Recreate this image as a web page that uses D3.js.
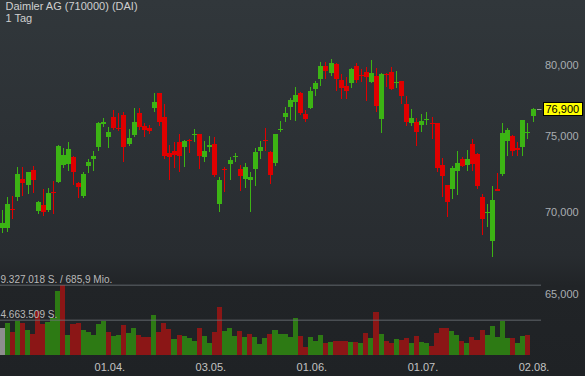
<!DOCTYPE html>
<html><head><meta charset="utf-8">
<script src="https://cdn.jsdelivr.net/npm/d3@7"></script>
<style>html,body{margin:0;padding:0;background:#24282b;}svg{display:block}</style>
</head><body><svg id="c" width="585" height="376"></svg>
<script>
// ---------------- data ----------------
const title = "Daimler AG (710000) (DAI)";
const period = "1 Tag";
const firstDay = "2021-03-03";
const lastDay = "2021-08-02";
const holidays = ["2021-04-02", "2021-04-05", "2021-05-24"];

const open = [68.99,69.02,70.21,70.99,72.14,71.75,72.73,70.08,70.46,70.14,
71.30,71.97,73.06,73.13,73.58,71.90,71.06,73.00,73.46,74.29,
75.85,74.96,76.34,75.58,76.45,74.47,75.08,76.61,75.69,75.58,
76.96,77.97,76.34,73.84,74.02,74.62,74.29,74.71,75.13,75.15,
73.62,74.25,74.47,70.54,72.80,73.13,73.66,72.80,72.14,72.08,
72.80,74.02,74.76,73.95,73.22,75.45,76.34,77.03,77.34,78.02,
76.52,76.96,78.28,78.99,79.95,79.44,80.07,78.92,78.49,78.73,
79.93,79.30,79.47,78.80,79.21,76.18,79.34,79.47,78.78,78.85,
77.22,75.92,75.99,75.78,76.13,75.92,75.88,73.06,71.75,71.49,
72.69,73.46,73.06,74.47,73.80,70.95,69.98,68.21,71.49,72.47,
74.67,75.01,74.22,74.25,75.24,76.41];
const high = [70.14,70.95,71.04,72.91,72.91,72.63,73.00,70.72,71.47,71.54,
72.01,74.37,74.18,74.58,73.66,71.95,72.58,73.46,74.00,75.97,
76.27,75.61,76.80,76.61,76.64,75.47,76.92,76.92,75.88,75.73,
77.97,77.99,77.22,74.40,74.62,75.15,74.71,74.79,75.47,75.18,
74.67,75.01,74.92,72.25,72.91,73.58,73.88,73.06,73.18,72.62,
74.18,74.67,75.54,73.98,75.18,76.04,77.03,77.66,78.40,78.07,
76.80,78.44,78.85,80.20,80.24,80.44,80.11,79.35,79.16,79.75,
80.12,79.69,79.83,80.36,79.76,79.40,79.40,79.83,79.57,78.88,
77.80,76.85,76.22,76.49,76.66,76.34,75.90,73.51,71.78,73.02,
74.02,73.58,74.06,74.79,73.83,71.17,70.52,71.69,72.56,75.88,
75.54,75.05,74.62,76.14,75.92,76.92];
const low = [68.67,68.77,69.55,70.74,71.04,71.15,71.21,69.89,69.76,70.00,
69.87,71.86,72.85,72.69,71.75,70.89,70.89,72.56,72.69,74.02,
75.65,74.22,75.42,75.37,73.24,74.35,74.96,75.42,74.96,75.15,
76.68,75.69,73.46,72.08,72.87,72.58,72.95,73.84,74.62,72.78,
73.28,73.95,72.25,70.03,71.28,72.08,73.28,71.38,71.54,70.00,
71.70,73.46,74.02,71.82,73.00,75.30,75.99,76.11,76.06,76.45,
75.99,76.87,77.80,78.51,78.97,79.23,78.16,77.55,77.55,78.33,
78.73,78.80,77.43,78.73,76.68,75.24,78.44,78.24,78.37,77.20,
75.69,75.69,74.35,75.30,75.76,74.79,72.62,70.95,69.68,70.84,
71.10,72.95,72.69,72.67,71.47,68.57,69.05,67.23,71.36,72.34,
73.66,73.68,73.68,73.68,74.79,75.99];
const close = [69.34,70.52,70.19,72.47,71.90,72.60,72.10,70.67,70.03,71.25,
71.28,74.33,73.73,74.13,72.62,71.64,72.47,73.24,73.66,75.92,
75.99,75.30,75.54,75.56,74.25,74.90,75.99,75.65,75.44,75.37,
77.38,75.99,73.68,73.58,73.73,73.68,74.67,74.69,75.15,73.68,
74.02,74.40,72.40,72.08,72.78,73.40,73.68,72.36,72.95,72.25,
73.95,74.29,74.74,72.40,75.15,75.47,76.61,77.50,77.85,76.61,
76.20,78.16,78.73,79.95,79.59,80.17,78.99,78.37,78.16,79.71,
78.92,79.28,79.11,79.40,77.10,79.35,79.31,78.28,78.80,77.80,
75.99,76.25,75.30,76.02,76.16,75.90,72.89,72.34,70.67,72.85,
73.18,73.02,73.46,73.13,71.70,69.57,70.00,70.78,71.38,75.24,
75.42,74.00,74.03,76.11,75.26,76.90];
const volume = [3600000,4260000,3150000,4600000,4260000,3370000,2800000,5940000,4170000,4400000,
4930000,8570000,9327018,2700000,4130000,4260000,3370000,3150000,2700000,4170000,
4570000,3150000,2600000,2700000,4040000,2930000,3680000,2700000,2480000,2400000,
5370000,3150000,4260000,3500000,2170000,2700000,2570000,2260000,1900000,3680000,
2610000,1600000,3060000,6480000,3240000,3680000,2570000,3240000,2480000,2800000,
2440000,1470000,2350000,2800000,3370000,2840000,2840000,2400000,5010000,2570000,
1150000,2480000,1900000,2700000,1680000,1730000,1950000,1900000,1900000,1730000,
1730000,1600000,3010000,2350000,5810000,2840000,1950000,1680000,2130000,2040000,
2350000,1600000,2610000,1730000,1600000,1280000,3010000,3680000,3600000,3240000,
2700000,1900000,1600000,2480000,2040000,3330000,2700000,3900000,2400000,4610000,
2260000,2260000,1600000,2610000,2700000,null];
const maxVolume = 9327018;
const maxTurnoverMio = 685.9;
const priceTicks = [65, 70, 75, 80];
const dateTicks = ["2021-04-01", "2021-05-03", "2021-06-01", "2021-07-01", "2021-08-02"];

// ---------------- chart ----------------
const W = 585, H = 376;
const svg = d3.select("#c");
const FONT = "'Liberation Sans', Arial, sans-serif";
const GREEN = "#3cb414", RED = "#e00000";
const VGREEN = "#2d7a14", VRED = "#8b1616", VGREY = "#8e8e8e";

const defs = svg.append("defs");
const grad = defs.append("linearGradient").attr("id", "bg")
  .attr("x1", 0).attr("y1", 0).attr("x2", 0).attr("y2", 1);
[[0, "#31373b"], [0.68, "#282c30"], [0.76, "#212427"], [1, "#1f2225"]]
  .forEach(([o, c]) => grad.append("stop").attr("offset", o).attr("stop-color", c));
svg.append("rect").attr("width", W).attr("height", H).attr("fill", "url(#bg)");

const parse = d3.utcParse("%Y-%m-%d"), fmtDay = d3.utcFormat("%Y-%m-%d");
const hol = new Set(holidays);
const days = d3.utcDays(parse(firstDay), d3.utcDay.offset(parse(lastDay), 1))
  .filter(d => d.getUTCDay() % 6 !== 0 && !hol.has(fmtDay(d)))
  .map(fmtDay);

const data = days.map((d, i) => ({
  day: d, o: open[i], h: high[i], l: low[i], c: close[i], v: volume[i],
  dir: i === 0 ? 0 : Math.sign(close[i] - close[i - 1])
}));

const x = d3.scaleBand().domain(days).range([-0.23, 535.07]).padding(0);
const bw = x.bandwidth();
const cx = d => x(d) + bw / 2;
const y = d3.scaleLog().domain([65, 80]).range([293.9, 65]);
const yv = d3.scaleLinear().domain([0, maxVolume]).range([355.3, 285.3]);

// volume bars
const vg = svg.append("g").attr("shape-rendering", "crispEdges");
vg.selectAll("rect").data(data.filter(d => d.v != null)).join("rect")
  .attr("x", d => Math.round(x(d.day)))
  .attr("width", d => Math.round(x(d.day) + bw) - Math.round(x(d.day)))
  .attr("y", d => Math.round(yv(d.v)))
  .attr("height", d => Math.round(yv(0)) - Math.round(yv(d.v)))
  .attr("fill", d => d.dir > 0 ? VGREEN : d.dir < 0 ? VRED : VGREY);

// volume grid lines
const deLocale = d3.formatLocale({decimal: ",", thousands: ".", grouping: [3], currency: ["", "€"]});
const fmtVol = deLocale.format(",d");
const fmtMio = deLocale.format(",.1f");
[maxVolume, maxVolume / 2].forEach(v => {
  svg.append("line").attr("x1", 0).attr("x2", 541)
    .attr("y1", yv(v)).attr("y2", yv(v))
    .attr("stroke", "rgba(110,115,120,0.55)").attr("stroke-width", 1.5);
});
svg.append("text").attr("x", 0.5).attr("y", yv(maxVolume) - 2.3)
  .attr("font-family", FONT).attr("font-size", 10).attr("fill", "#b9b9b9")
  .text(fmtVol(maxVolume) + " S. / " + fmtMio(maxTurnoverMio) + " Mio.");
svg.append("text").attr("x", 0.5).attr("y", yv(maxVolume / 2) - 2.3)
  .attr("font-family", FONT).attr("font-size", 10).attr("fill", "#b9b9b9")
  .text(fmtVol(Math.round(maxVolume / 2)) + " S.");

// candles
const cg = svg.append("g").attr("shape-rendering", "crispEdges");
const candles = cg.selectAll("g").data(data).join("g");
candles.append("rect")
  .attr("x", d => Math.round(cx(d.day)))
  .attr("width", 1)
  .attr("y", d => Math.round(y(d.h)))
  .attr("height", d => Math.max(1, Math.round(y(d.l)) - Math.round(y(d.h))))
  .attr("fill", d => d.c >= d.o ? GREEN : RED);
candles.append("rect")
  .attr("x", d => Math.round(cx(d.day)) - 2)
  .attr("width", 5)
  .attr("y", d => Math.round(y(Math.max(d.o, d.c))))
  .attr("height", d => Math.max(1, Math.round(y(Math.min(d.o, d.c))) - Math.round(y(Math.max(d.o, d.c)))))
  .attr("fill", d => d.c >= d.o ? GREEN : RED);

// price axis (right)
const fmtPrice = v => d3.format(".3f")(v).replace(".", ",");
svg.append("g").selectAll("text").data(priceTicks).join("text")
  .attr("x", 545).attr("y", d => y(d) + 4)
  .attr("font-family", FONT).attr("font-size", 11).attr("fill", "#a9adb1")
  .text(fmtPrice);

// last price marker
const last = data[data.length - 1];
const ly = y(last.c);
svg.append("line").attr("x1", 537).attr("x2", 541.5).attr("y1", Math.round(ly) + 0.5).attr("y2", Math.round(ly) + 0.5)
  .attr("stroke", "#9a9a9a").attr("stroke-width", 1);
svg.append("rect").attr("x", 543.5).attr("y", Math.round(ly) - 6.5).attr("width", 39).attr("height", 13)
  .attr("fill", "#ffff00").attr("stroke", "#000").attr("stroke-width", 1);
svg.append("text").attr("x", 545.5).attr("y", ly + 4.2)
  .attr("font-family", FONT).attr("font-size", 11).attr("fill", "#000")
  .text(fmtPrice(last.c));

// date axis
const fmtDate = d3.utcFormat("%d.%m.");
svg.append("g").selectAll("text").data(dateTicks).join("text")
  .attr("x", d => cx(d) + 1.5).attr("y", 370.5).attr("text-anchor", "middle")
  .attr("font-family", FONT).attr("font-size", 11).attr("fill", "#c3c3c3")
  .text(d => fmtDate(parse(d)));

// title block
svg.append("text").attr("x", 5.5).attr("y", 9.5)
  .attr("font-family", FONT).attr("font-size", 11).attr("fill", "#cfcfcf").text(title);
svg.append("text").attr("x", 5.5).attr("y", 21.9)
  .attr("font-family", FONT).attr("font-size", 11).attr("fill", "#cfcfcf").text(period);
</script>
</body></html>
